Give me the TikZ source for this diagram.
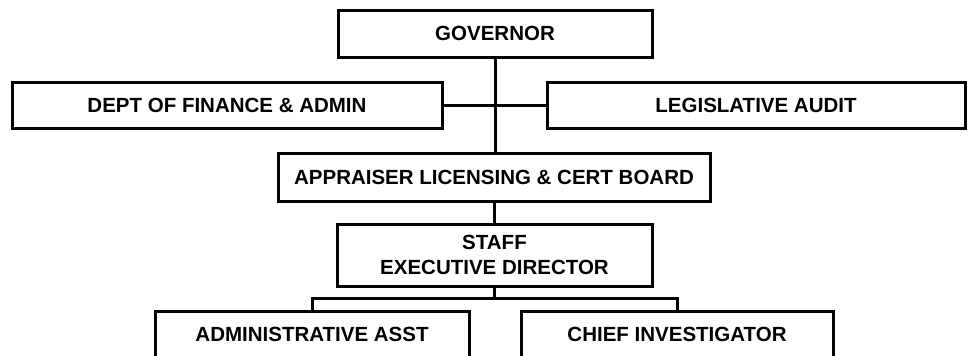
\documentclass[tikz,border=0pt]{standalone}
\usepackage{fontspec}
\setmainfont{Liberation Sans}
\begin{document}
\begin{tikzpicture}[x=1pt,y=1pt,
  unit/.style={draw=black, line width=3pt, fill=white, inner sep=0pt,
    align=center, font=\fontsize{20.5}{25}\selectfont\bfseries},
  link/.style={draw=black, line width=3pt}]
\useasboundingbox[fill=white] (0,0) rectangle (969,-356);

% boxes
\node[unit, minimum width=314, minimum height=47] (gov)   at (495,-33.5) {GOVERNOR};
\node[unit, minimum width=430, minimum height=46] (fin)   at (227,-105)  {DEPT OF FINANCE \& ADMIN};
\node[unit, minimum width=418, minimum height=46] (leg)   at (756,-105)  {LEGISLATIVE AUDIT};
\node[unit, minimum width=432, minimum height=48] (board) at (494,-177)  {APPRAISER LICENSING \& CERT BOARD};
\node[unit, minimum width=315, minimum height=62] (staff) at (494.5,-255) {STAFF\\EXECUTIVE DIRECTOR};
\node[unit, minimum width=314, minimum height=46] (asst)  at (312,-334)  {ADMINISTRATIVE ASST};
\node[unit, minimum width=312, minimum height=46] (chief) at (677,-334)  {CHIEF INVESTIGATOR};

% reporting lines
\draw[link] (gov.south) -- (gov.south |- board.north);
\draw[link] (fin.east) -- (leg.west);
\draw[link] (board.south) -- (board.south |- staff.north);
\coordinate (bus) at (494.5,-298);
\draw[link] (staff.south) -- (bus);
\draw[link] (asst.north) |- (bus) -| (chief.north);
\end{tikzpicture}
\end{document}
